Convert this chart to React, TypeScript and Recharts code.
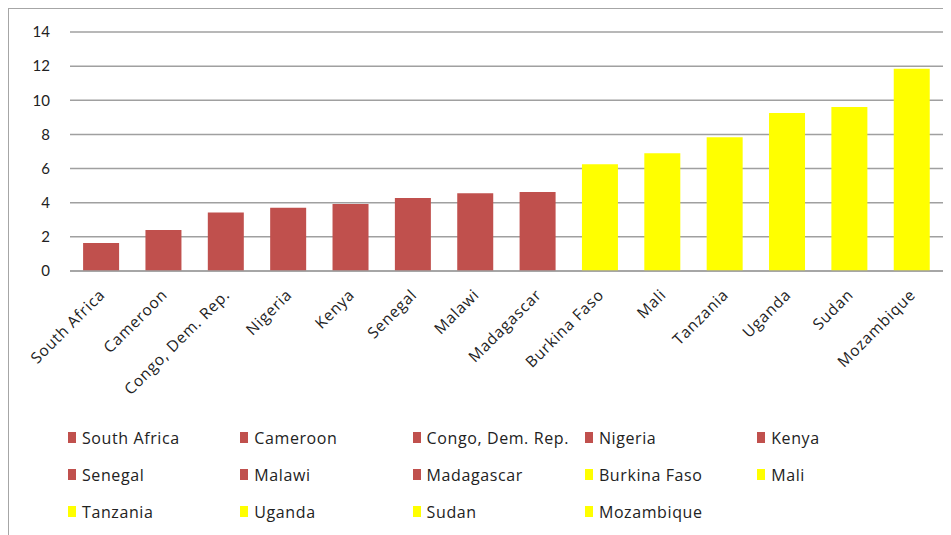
import { BarChart, Bar, XAxis, YAxis, CartesianGrid, Legend, Cell } from 'recharts';

const countries = [
  'South Africa',
  'Cameroon',
  'Congo, Dem. Rep.',
  'Nigeria',
  'Kenya',
  'Senegal',
  'Malawi',
  'Madagascar',
  'Burkina Faso',
  'Mali',
  'Tanzania',
  'Uganda',
  'Sudan',
  'Mozambique',
];

const values = [1.64, 2.4, 3.43, 3.71, 3.92, 4.27, 4.56, 4.63, 6.26, 6.9, 7.84, 9.25, 9.6, 11.85];

// which group each country falls in (0 = red, 1 = yellow)
const groups = [0, 0, 0, 0, 0, 0, 0, 0, 1, 1, 1, 1, 1, 1];

const yTicks = [0, 2, 4, 6, 8, 10, 12, 14];

const groupColors = ['#C0504D', '#FFFF00'];

const data = countries.map((name, i) => ({ name, value: values[i], group: groups[i] }));

const FONT = 'Lato, "Open Sans", sans-serif';
const LABEL_FONT = '"Open Sans", sans-serif';

function CountryLegend() {
  return (
    <div
      style={{
        display: 'grid',
        gridTemplateColumns: 'repeat(5, 172.3px)',
        gridAutoRows: '37px',
        fontFamily: LABEL_FONT,
        fontSize: 16,
        letterSpacing: 0.6,
        color: '#222',
      }}
    >
      {data.map((d) => (
        <div key={d.name} style={{ display: 'flex', alignItems: 'center', whiteSpace: 'nowrap' }}>
          <span
            style={{
              display: 'inline-block',
              width: 8,
              height: 11,
              marginRight: 6,
              background: groupColors[d.group],
            }}
          />
          {d.name}
        </div>
      ))}
    </div>
  );
}

export default function App() {
  return (
    <div
      style={{
        width: 943,
        height: 527,
        borderLeft: '1px solid #a6a6a6',
        borderTop: '1px solid #a6a6a6',
        background: '#fff',
      }}
    >
      <BarChart
        width={942}
        height={526}
        data={data}
        margin={{ top: 23, right: 8, left: 0, bottom: 144 }}
        barCategoryGap="21%"
      >
        <CartesianGrid vertical={false} stroke="#a0a0a0" strokeWidth={1.5} />
        <XAxis
          dataKey="name"
          interval={0}
          height={120}
          tickLine={false}
          axisLine={{ stroke: '#a0a0a0', strokeWidth: 1.5 }}
          angle={-45}
          textAnchor="end"
          dx={-3}
          dy={9}
          tick={{ fill: '#222', fontSize: 15.5, fontFamily: LABEL_FONT, letterSpacing: 0.8 }}
        />
        <YAxis
          width={61}
          domain={[0, 14]}
          ticks={yTicks}
          tickLine={false}
          axisLine={false}
          tickSize={0}
          tickMargin={20}
          tick={{ fill: '#222', fontSize: 15, fontFamily: FONT }}
        />
        <Legend
          layout="horizontal"
          verticalAlign="middle"
          align="center"
          wrapperStyle={{ top: 410, left: 59, width: 880 }}
          content={() => <CountryLegend />}
        />
        <Bar dataKey="value" isAnimationActive={false}>
          {data.map((d) => (
            <Cell key={d.name} fill={groupColors[d.group]} />
          ))}
        </Bar>
      </BarChart>
    </div>
  );
}
